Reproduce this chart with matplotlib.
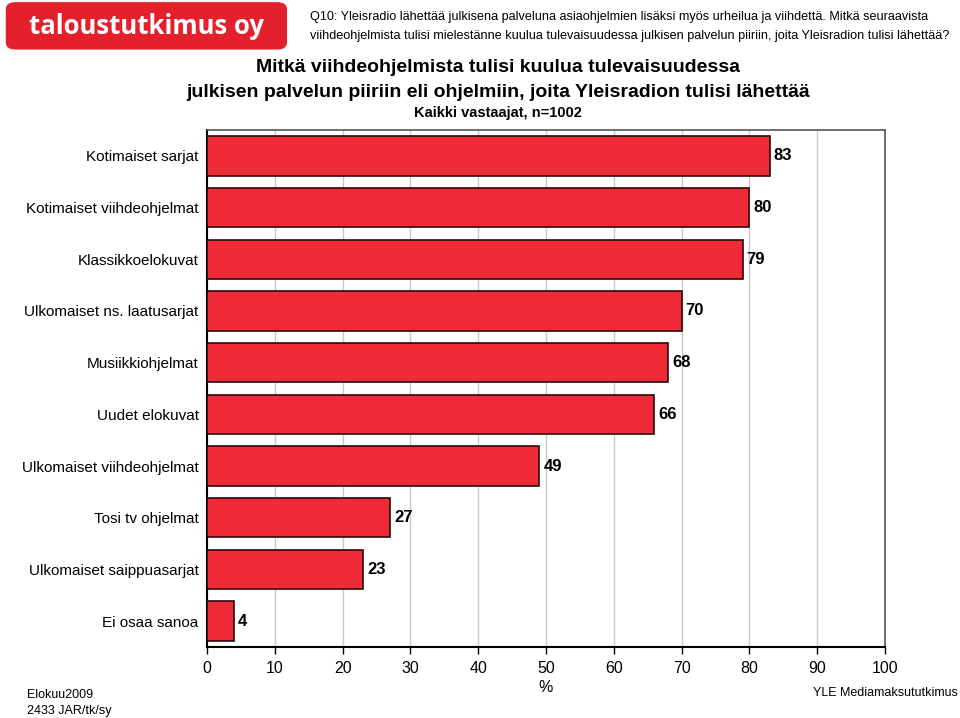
import matplotlib.pyplot as plt
from matplotlib.patches import FancyBboxPatch

plt.rcParams['font.family'] = ['Liberation Sans', 'DejaVu Sans']

categories = ['Kotimaiset sarjat', 'Kotimaiset viihdeohjelmat', 'Klassikkoelokuvat',
              'Ulkomaiset ns. laatusarjat', 'Musiikkiohjelmat', 'Uudet elokuvat',
              'Ulkomaiset viihdeohjelmat', 'Tosi tv ohjelmat', 'Ulkomaiset saippuasarjat',
              'Ei osaa sanoa']
values = [83, 80, 79, 70, 68, 66, 49, 27, 23, 4]
xticks = [0, 10, 20, 30, 40, 50, 60, 70, 80, 90, 100]

bar_color = '#EE2B36'

fig = plt.figure(figsize=(9.6, 7.18), dpi=100)
ax = fig.add_axes([0.2156, 0.0989, 0.7063, 0.72])

ypos = range(len(categories))
ax.barh(ypos, values, height=0.76, color=bar_color, edgecolor='#2a0a0a', linewidth=1.2, zorder=3)
for y, v in zip(ypos, values):
    ax.text(v + 0.6, y, str(v), va='center', ha='left', fontsize=12, fontweight='bold', zorder=4)

ax.set_xlim(0, 100)
ax.set_ylim(9.5, -0.5)
ax.set_xticks(xticks)
ax.set_xticklabels([str(t) for t in xticks], fontsize=11.5)
ax.set_yticks(list(ypos))
ax.set_yticklabels(categories, fontsize=11)
ax.tick_params(axis='y', length=0, pad=6)
ax.tick_params(axis='x', length=5, width=1, pad=5)
ax.xaxis.grid(True, color='#c8c8c8', linewidth=1, zorder=0)
ax.set_axisbelow(True)
for side in ['left', 'bottom']:
    ax.spines[side].set_linewidth(1.5)
    ax.spines[side].set_color('black')
for side in ['top', 'right']:
    ax.spines[side].set_linewidth(1.2)
    ax.spines[side].set_color('#555555')
ax.set_xlabel('%', fontsize=11.5, labelpad=3)

# logo
logo = FancyBboxPatch((0.006, 0.931), 0.293, 0.066, boxstyle='round,pad=0,rounding_size=0.01',
                      transform=fig.transFigure, facecolor='#E3202B', edgecolor='none')
fig.patches.append(logo)
fig.text(0.153, 0.963, 'taloustutkimus oy', color='white', fontsize=18.5, fontweight='bold',
         ha='center', va='center', family=['Open Sans', 'DejaVu Sans'])

fig.text(0.323, 0.976, 'Q10: Yleisradio lähettää julkisena palveluna asiaohjelmien lisäksi myös urheilua ja viihdettä. Mitkä seuraavista',
         fontsize=9.1, ha='left', va='center')
fig.text(0.323, 0.950, 'viihdeohjelmista tulisi mielestänne kuulua tulevaisuudessa julkisen palvelun piiriin, joita Yleisradion tulisi lähettää?',
         fontsize=9.1, ha='left', va='center')

fig.text(0.519, 0.906, 'Mitkä viihdeohjelmista tulisi kuulua tulevaisuudessa', fontsize=14,
         fontweight='bold', ha='center', va='center')
fig.text(0.519, 0.871, 'julkisen palvelun piiriin eli ohjelmiin, joita Yleisradion tulisi lähettää', fontsize=14,
         fontweight='bold', ha='center', va='center')
fig.text(0.519, 0.842, 'Kaikki vastaajat, n=1002', fontsize=10.5, fontweight='bold', ha='center', va='center')

fig.text(0.028, 0.032, 'Elokuu2009', fontsize=9, ha='left', va='center')
fig.text(0.028, 0.010, '2433 JAR/tk/sy', fontsize=9, ha='left', va='center')
fig.text(0.998, 0.035, 'YLE Mediamaksututkimus', fontsize=9, ha='right', va='center')

fig.savefig('out.png', dpi=100)
